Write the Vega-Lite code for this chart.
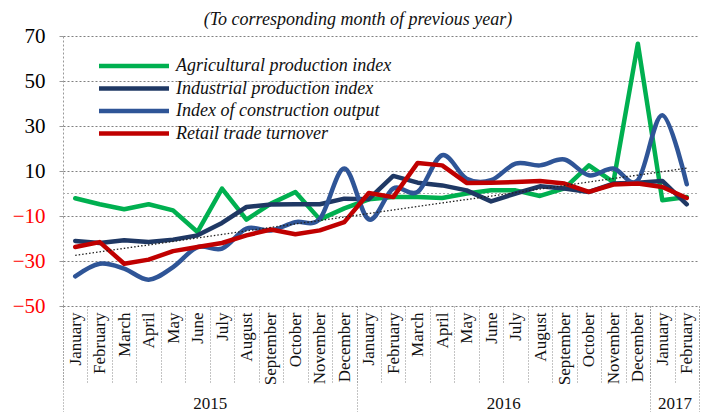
{
  "$schema": "https://vega.github.io/schema/vega-lite/v6.json",
  "width": 636,
  "height": 270,
  "autosize": {"type": "none"},
  "padding": {"left": 63, "top": 36, "right": 9, "bottom": 106},
  "background": "white",
  "title": {
    "text": "(To corresponding month of previous year)",
    "font": "Liberation Serif, Times New Roman, serif",
    "fontSize": 18,
    "fontStyle": "italic",
    "fontWeight": "normal",
    "color": "#111111",
    "anchor": "middle",
    "dx": -23,
    "offset": 0,
    "dy": 4
  },
  "config": {"view": {"stroke": null}, "font": "Liberation Serif, Times New Roman, serif"},
  "datasets": {
    "monthly": [
      {"t": 0, "month": "January", "year": 2015, "Agricultural production index": -2.1, "Industrial production index": -21.1, "Index of construction output": -36.8, "Retail trade turnover": -23.8},
      {"t": 1, "month": "February", "year": 2015, "Agricultural production index": -4.8, "Industrial production index": -22.0, "Index of construction output": -31.2, "Retail trade turnover": -21.6},
      {"t": 2, "month": "March", "year": 2015, "Agricultural production index": -7.0, "Industrial production index": -20.8, "Index of construction output": -33.4, "Retail trade turnover": -31.2},
      {"t": 3, "month": "April", "year": 2015, "Agricultural production index": -4.8, "Industrial production index": -21.6, "Index of construction output": -38.3, "Retail trade turnover": -29.4},
      {"t": 4, "month": "May", "year": 2015, "Agricultural production index": -7.5, "Industrial production index": -20.5, "Index of construction output": -32.7, "Retail trade turnover": -25.6},
      {"t": 5, "month": "June", "year": 2015, "Agricultural production index": -17.1, "Industrial production index": -18.6, "Index of construction output": -23.8, "Retail trade turnover": -23.8},
      {"t": 6, "month": "July", "year": 2015, "Agricultural production index": 2.2, "Industrial production index": -13.1, "Index of construction output": -24.5, "Retail trade turnover": -22.0},
      {"t": 7, "month": "August", "year": 2015, "Agricultural production index": -11.6, "Industrial production index": -6.0, "Index of construction output": -15.6, "Retail trade turnover": -18.6},
      {"t": 8, "month": "September", "year": 2015, "Agricultural production index": -4.5, "Industrial production index": -4.9, "Index of construction output": -16.4, "Retail trade turnover": -16.0},
      {"t": 9, "month": "October", "year": 2015, "Agricultural production index": 0.7, "Industrial production index": -4.8, "Index of construction output": -12.7, "Retail trade turnover": -18.1},
      {"t": 10, "month": "November", "year": 2015, "Agricultural production index": -11.5, "Industrial production index": -4.8, "Index of construction output": -11.2, "Retail trade turnover": -16.4},
      {"t": 11, "month": "December", "year": 2015, "Agricultural production index": -6.6, "Industrial production index": -2.3, "Index of construction output": 11.1, "Retail trade turnover": -12.7},
      {"t": 12, "month": "January", "year": 2016, "Agricultural production index": -2.6, "Industrial production index": -2.5, "Index of construction output": -11.5, "Retail trade turnover": 0.2},
      {"t": 13, "month": "February", "year": 2016, "Agricultural production index": -1.6, "Industrial production index": 7.8, "Index of construction output": 2.2, "Retail trade turnover": -1.6},
      {"t": 14, "month": "March", "year": 2016, "Agricultural production index": -1.6, "Industrial production index": 4.8, "Index of construction output": 0.7, "Retail trade turnover": 13.6},
      {"t": 15, "month": "April", "year": 2016, "Agricultural production index": -2.0, "Industrial production index": 3.6, "Index of construction output": 17.0, "Retail trade turnover": 12.5},
      {"t": 16, "month": "May", "year": 2016, "Agricultural production index": 0.0, "Industrial production index": 1.4, "Index of construction output": 6.6, "Retail trade turnover": 4.7},
      {"t": 17, "month": "June", "year": 2016, "Agricultural production index": 1.4, "Industrial production index": -3.5, "Index of construction output": 5.9, "Retail trade turnover": 4.8},
      {"t": 18, "month": "July", "year": 2016, "Agricultural production index": 1.4, "Industrial production index": 0.0, "Index of construction output": 13.3, "Retail trade turnover": 5.1},
      {"t": 19, "month": "August", "year": 2016, "Agricultural production index": -1.1, "Industrial production index": 3.2, "Index of construction output": 12.5, "Retail trade turnover": 5.6},
      {"t": 20, "month": "September", "year": 2016, "Agricultural production index": 2.3, "Industrial production index": 2.2, "Index of construction output": 15.1, "Retail trade turnover": 4.4},
      {"t": 21, "month": "October", "year": 2016, "Agricultural production index": 12.5, "Industrial production index": 0.7, "Index of construction output": 8.1, "Retail trade turnover": 0.7},
      {"t": 22, "month": "November", "year": 2016, "Agricultural production index": 5.1, "Industrial production index": 4.4, "Index of construction output": 11.1, "Retail trade turnover": 4.0},
      {"t": 23, "month": "December", "year": 2016, "Agricultural production index": 66.6, "Industrial production index": 4.8, "Index of construction output": 5.9, "Retail trade turnover": 4.4},
      {"t": 24, "month": "January", "year": 2017, "Agricultural production index": -3.0, "Industrial production index": 5.6, "Index of construction output": 34.8, "Retail trade turnover": 2.9},
      {"t": 25, "month": "February", "year": 2017, "Agricultural production index": -1.6, "Industrial production index": -4.8, "Index of construction output": 4.1, "Retail trade turnover": -2.0}
    ],
    "trend": [
      {"t": 0, "trend": -27.5},
      {"t": 25, "trend": 11.3}
    ],
    "zero": [
      {"from": -0.5, "to": 25.5, "zero": 0}
    ]
  },
  "resolve": {"axis": {"x": "independent"}},
  "layer": [
    {
      "data": {"name": "zero"},
      "mark": {"type": "rule", "color": "#aaaaaa", "strokeWidth": 1, "strokeDash": [2, 2]},
      "encoding": {
        "x": {"field": "from", "type": "quantitative", "scale": {"domain": [-0.5, 25.5], "nice": false, "zero": false},
          "axis": {"orient": "bottom", "values": [5.5, 17.5, 24.5], "labelExpr": "datum.value < 12 ? '2015' : datum.value < 24 ? '2016' : '2017'", "labelFont": "Liberation Serif, Times New Roman, serif", "labelFontSize": 17, "labelColor": "#111111", "labelPadding": 89, "ticks": false, "domain": false, "grid": false, "title": null, "labelOverlap": false, "labelBound": false}},
        "x2": {"field": "to"},
        "y": {"field": "zero", "type": "quantitative", "title": null, "scale": {"domain": [-50, 70], "nice": false, "zero": false},
          "axis": {"values": [-50, -30, -10, 10, 30, 50, 70], "labelFont": "Liberation Serif, Times New Roman, serif", "labelFontSize": 21, "labelColor": {"condition": {"test": "datum.value < 0", "value": "#ff0000"}, "value": "#000000"}, "labelPadding": 14, "grid": true, "gridDash": [2, 2], "gridColor": "#808080", "gridWidth": 1, "domain": true, "domainDash": [2, 2], "domainColor": "#999999", "ticks": true, "tickSize": 4, "tickColor": "#999999", "title": null}}
      }
    },
    {
      "data": {"name": "monthly"},
      "transform": [
        {"fold": ["Agricultural production index", "Industrial production index"], "as": ["series", "value"]}
      ],
      "mark": {"type": "line", "strokeWidth": 4.5, "strokeCap": "round", "strokeJoin": "round"},
      "encoding": {
        "x": {"field": "t", "type": "quantitative", "scale": {"domain": [-0.5, 25.5], "nice": false, "zero": false},
          "axis": {"orient": "bottom", "values": [0,1,2,3,4,5,6,7,8,9,10,11,12,13,14,15,16,17,18,19,20,21,22,23,24,25], "labelExpr": "['January','February','March','April','May','June','July','August','September','October','November','December'][datum.value % 12]", "labelAngle": -90, "labelFont": "Liberation Serif, Times New Roman, serif", "labelFontSize": 17, "labelColor": "#111111", "labelPadding": 6, "ticks": false, "domain": false, "grid": false, "title": null, "labelOverlap": false, "labelBound": false}},
        "y": {"field": "value", "type": "quantitative", "title": null},
        "color": {"field": "series", "type": "nominal",
          "scale": {"domain": ["Agricultural production index", "Industrial production index", "Index of construction output", "Retail trade turnover"], "range": ["#00b050", "#1f3864", "#2f5597", "#c00000"]},
          "legend": {"title": null, "orient": "none", "legendX": 62, "legendY": 21, "symbolType": "M-7,0H7", "symbolSize": 100, "symbolStrokeWidth": 4.5, "labelFont": "Liberation Serif, Times New Roman, serif", "labelFontSize": 18, "labelFontStyle": "italic", "labelColor": "#111111", "labelOffset": 33, "rowPadding": 4.5, "padding": 0, "labelLimit": 400}}
      }
    },
    {
      "data": {"name": "monthly"},
      "transform": [
        {"fold": ["Index of construction output"], "as": ["series", "value"]}
      ],
      "mark": {"type": "line", "strokeWidth": 4.5, "strokeCap": "round", "interpolate": "cardinal"},
      "encoding": {
        "x": {"field": "t", "type": "quantitative", "scale": {"domain": [-0.5, 25.5], "nice": false, "zero": false},
          "axis": {"orient": "bottom", "values": [-0.5,0.5,1.5,2.5,3.5,4.5,5.5,6.5,7.5,8.5,9.5,10.5,11.5,12.5,13.5,14.5,15.5,16.5,17.5,18.5,19.5,20.5,21.5,22.5,23.5,24.5,25.5], "labels": false, "ticks": true, "tickSize": 77, "tickDash": [1, 2], "tickColor": "#888888", "domain": false, "grid": false, "title": null}},
        "y": {"field": "value", "type": "quantitative", "title": null},
        "color": {"field": "series", "type": "nominal"}
      }
    },
    {
      "data": {"name": "monthly"},
      "transform": [
        {"fold": ["Retail trade turnover"], "as": ["series", "value"]}
      ],
      "mark": {"type": "line", "strokeWidth": 4.5, "strokeCap": "round", "strokeJoin": "round"},
      "encoding": {
        "x": {"field": "t", "type": "quantitative", "scale": {"domain": [-0.5, 25.5], "nice": false, "zero": false},
          "axis": {"orient": "bottom", "values": [-0.5, 11.5, 23.5, 25.5], "labels": false, "ticks": true, "tickSize": 106, "tickDash": [1, 2], "tickColor": "#888888", "domain": false, "grid": false, "title": null}},
        "y": {"field": "value", "type": "quantitative", "title": null},
        "color": {"field": "series", "type": "nominal"}
      }
    },
    {
      "data": {"name": "trend"},
      "mark": {"type": "line", "color": "#222222", "strokeWidth": 1.3, "strokeDash": [1.5, 2]},
      "encoding": {
        "x": {"field": "t", "type": "quantitative", "scale": {"domain": [-0.5, 25.5], "nice": false, "zero": false}, "axis": null},
        "y": {"field": "trend", "type": "quantitative", "title": null}
      }
    }
  ]
}
